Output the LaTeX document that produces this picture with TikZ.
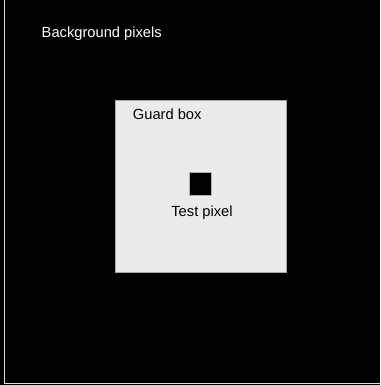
\documentclass[tikz,border=0pt]{standalone}
\usepackage{fontspec}
\setmainfont{Liberation Sans}
\begin{document}
\begin{tikzpicture}[x=1pt,y=-1pt,
  lbl/.style={font=\fontsize{14.7}{17}\selectfont, inner sep=0pt},
  guard/.style={draw=gray!70, fill=black!8, line width=0.8pt, inner sep=0pt, minimum width=171pt, minimum height=172pt},
  testpx/.style={fill=black, draw=gray!60, line width=0.6pt, inner sep=0pt, minimum width=22.5pt, minimum height=22.5pt},
  edge/.style={draw=gray!25, line width=1pt}]
\fill[black] (0,0) rectangle (380,385);
\useasboundingbox (0,0) rectangle (380,385);
\coordinate (tl) at (4.5,0);
\coordinate (bl) at (4.5,383.5);
\coordinate (br) at (380,383.5);
\draw[edge] (tl) -- (bl) -- (br);
\node[guard] (guardbox) at (200.4,186.2) {};
\node[testpx] (test) at (200.4,184) {};
\node[lbl, text=white, anchor=base west] (bglabel) at (41.5,37.5) {Background pixels};
\node[lbl, text=black, anchor=base west] (guardlabel) at (132.7,120) {Guard box};
\node[lbl, text=black, anchor=base] (testlabel) at (202,216.7) {Test pixel};
\end{tikzpicture}
\end{document}
